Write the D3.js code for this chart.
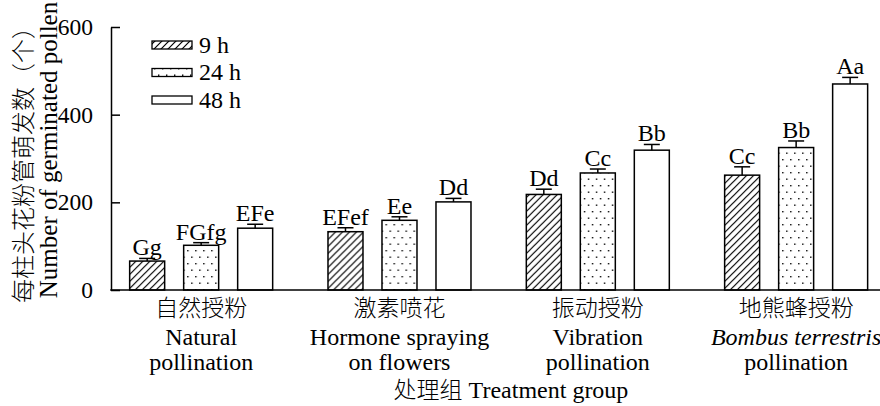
<!DOCTYPE html>
<html><head><meta charset="utf-8">
<script src="https://cdn.jsdelivr.net/npm/d3@7"></script>
<style>
body{margin:0;background:#fff;}
svg{display:block;}
</style></head>
<body><svg id="c" width="880" height="406"></svg>
<script>
const categoriesZh = ["自然授粉","激素喷花","振动授粉","地熊蜂授粉"];
const categoriesEn1 = ["Natural","Hormone spraying","Vibration","Bombus terrestris"];
const categoriesEn2 = ["pollination","on flowers","pollination","pollination"];
const series = ["9 h","24 h","48 h"];
const values9h  = [66, 133, 218, 262];
const values24h = [102, 159, 267, 325];
const values48h = [141, 201, 319, 470];
const err9h  = [6, 9, 12, 19];
const err24h = [6, 8, 9, 15];
const err48h = [9, 8, 13, 15];
const sig9h  = ["Gg","EFef","Dd","Cc"];
const sig24h = ["FGfg","Ee","Cc","Bb"];
const sig48h = ["EFe","Dd","Bb","Aa"];
const yTicks = [0,200,400,600];

const SERIF = "Liberation Serif";
const ZH = "Noto Sans CJK SC";

const svg = d3.select("#c");
const defs = svg.append("defs");
const hatch = defs.append("pattern").attr("id","hatch").attr("patternUnits","userSpaceOnUse")
  .attr("width",7).attr("height",7);
hatch.append("path").attr("d","M-1,1 l2,-2 M0,7 l7,-7 M6,8 l2,-2").attr("stroke","#000").attr("stroke-width",1.2);
const dots = defs.append("pattern").attr("id","dots").attr("patternUnits","userSpaceOnUse")
  .attr("width",8).attr("height",13);
dots.append("rect").attr("x",2).attr("y",3).attr("width",1.4).attr("height",1.4).attr("fill","#000");
dots.append("rect").attr("x",6).attr("y",9.5).attr("width",1.4).attr("height",1.4).attr("fill","#000");
const fills = ["url(#hatch)","url(#dots)","#fff"];

const y = d3.scaleLinear().domain([0,600]).range([290,27]);
const x0 = d3.scaleBand().domain(categoriesZh).range([102, 895.3]).paddingInner(0).paddingOuter(0);
const x1 = d3.scaleBand().domain(series).range([-71.5,71.5]).paddingInner(19/54).paddingOuter(0);

const vals = [values9h, values24h, values48h];
const errs = [err9h, err24h, err48h];
const sigs = [sig9h, sig24h, sig48h];

const data = [];
categoriesZh.forEach((c,i)=>{
  series.forEach((s,j)=>{
    data.push({c, s, j, v: vals[j][i], e: errs[j][i], sig: sigs[j][i]});
  });
});

const g = svg.append("g");
const bars = g.selectAll("g.bar").data(data).join("g")
  .attr("transform", d=>`translate(${x0(d.c)+x0.bandwidth()/2},0)`);
bars.append("rect")
  .attr("x", d=>x1(d.s)).attr("width", x1.bandwidth())
  .attr("y", d=>y(d.v)).attr("height", d=>y(0)-y(d.v))
  .attr("fill", d=>fills[d.j]).attr("stroke","#000").attr("stroke-width",1.5);
bars.append("line")
  .attr("x1", d=>x1(d.s)+x1.bandwidth()/2).attr("x2", d=>x1(d.s)+x1.bandwidth()/2)
  .attr("y1", d=>y(d.v)).attr("y2", d=>y(d.v+d.e)).attr("stroke","#000").attr("stroke-width",1.5);
bars.append("line")
  .attr("x1", d=>x1(d.s)+x1.bandwidth()/2-8).attr("x2", d=>x1(d.s)+x1.bandwidth()/2+8)
  .attr("y1", d=>y(d.v+d.e)).attr("y2", d=>y(d.v+d.e)).attr("stroke","#000").attr("stroke-width",1.5);
bars.append("text")
  .attr("x", d=>x1(d.s)+x1.bandwidth()/2).attr("y", d=>y(d.v+d.e)-3)
  .attr("text-anchor","middle").style("font-family",SERIF).style("font-size","24px").text(d=>d.sig);

// axes
const yAxis = d3.axisLeft(y).tickValues(yTicks).tickSizeInner(-9).tickSizeOuter(0).tickPadding(18);
const ya = svg.append("g").attr("transform","translate(111,0)").call(yAxis);
ya.select(".domain").attr("stroke","#000").attr("stroke-width",1.5);
ya.selectAll(".tick line").attr("stroke","#000").attr("stroke-width",1.5);
ya.selectAll(".tick text").style("font-family",SERIF).style("font-size","23.5px").attr("fill","#000");

svg.append("line").attr("x1",110.25).attr("x2",880).attr("y1",y(0)).attr("y2",y(0))
  .attr("stroke","#000").attr("stroke-width",1.5);

// category labels
const cl = svg.append("g");
categoriesZh.forEach((c,i)=>{
  const cx = x0(c)+x0.bandwidth()/2;
  cl.append("text").attr("x",cx).attr("y",316).attr("text-anchor","middle")
    .style("font-family",ZH).style("font-weight","300").style("font-size","23px").text(c);
  cl.append("text").attr("x",cx).attr("y",345).attr("text-anchor","middle")
    .style("font-family",SERIF).style("font-size","24px")
    .style("font-style", i===3 ? "italic" : "normal").text(categoriesEn1[i]);
  cl.append("text").attr("x",cx).attr("y",370).attr("text-anchor","middle")
    .style("font-family",SERIF).style("font-size","24px").text(categoriesEn2[i]);
});
const xt = svg.append("text").attr("x",511).attr("y",398).attr("text-anchor","middle")
  .style("font-family",SERIF).style("font-size","24px");
xt.append("tspan").style("font-family",ZH).style("font-weight","300").style("font-size","23px").text("处理组");
xt.append("tspan").style("font-family",SERIF).text(" Treatment group");

// y title
svg.append("text").attr("transform","translate(31.5,159) rotate(-90)").attr("text-anchor","middle")
  .style("font-family",ZH).style("font-weight","300").style("font-size","24px").text("每柱头花粉管萌发数（个）");
svg.append("text").attr("transform","translate(57,150) rotate(-90)").attr("text-anchor","middle")
  .style("font-family",SERIF).style("font-size","25px").text("Number of germinated pollen");

// legend
const lg = svg.append("g");
series.forEach((s,j)=>{
  const yy = 45 + j*27.5;
  lg.append("rect").attr("x",152).attr("y",yy-4).attr("width",40).attr("height",8)
    .attr("fill",fills[j]).attr("stroke","#000").attr("stroke-width",1.3);
  lg.append("text").attr("x",199).attr("y",yy+7.5)
    .style("font-family",SERIF).style("font-size","24px").text(s);
});
</script></body></html>
